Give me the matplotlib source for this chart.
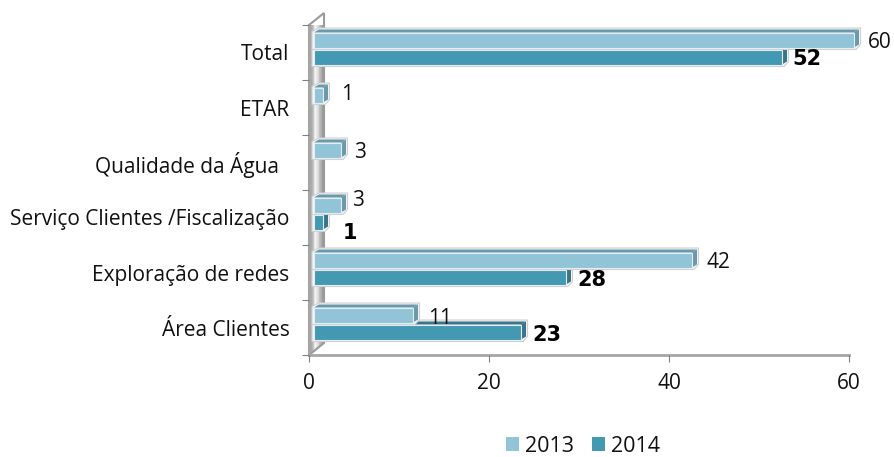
import matplotlib
matplotlib.use('Agg')
import matplotlib.pyplot as plt
import numpy as np
from matplotlib.patches import Polygon, Patch
from matplotlib.transforms import offset_copy

plt.rcParams['font.family'] = ['Open Sans', 'DejaVu Sans']

categories = ['Área Clientes', 'Exploração de redes', 'Serviço Clientes /Fiscalização',
              'Qualidade da Água  ', 'ETAR', 'Total']
values_2013 = [11, 42, 3, 3, 1, 60]
values_2014 = [23, 28, 1, None, None, 52]
xticks = [0, 20, 40, 60]

# label offsets in pixels from the bar end (dx, dy)
offs_2013 = [(27, -3), (26, -3), (17, 4), (19, -3), (24, 0), (26, -2)]
offs_2014 = [(26, -3), (26, -3), (27, -11), None, None, (25, -2)]

W, H = 895, 457
C13 = '#92c4d8'
C14 = '#4299b1'
S13 = '#6a99ab'
S14 = '#3a7488'
GREY = '#a6a6a6'
DX = 5      # bar start offset from the axis
DEPTH = 5   # 3d depth of a bar

fig = plt.figure(figsize=(W / 100, H / 100), dpi=100)
ax = fig.add_axes([309 / W, 1 - 355 / H, 540 / W, 330 / H])
ax.set_facecolor('none')
for s in ['top', 'right']:
    ax.spines[s].set_visible(False)
for s in ['left', 'bottom']:
    ax.spines[s].set_color(GREY)
    ax.spines[s].set_linewidth(2)
    ax.spines[s].set_zorder(1.5)


def px(x, y):
    return ((x - 309) / 540 * 60, 5.5 - (y - 25) / 55)


# side wall
wall = Polygon([px(309, 25), px(324, 13), px(324, 343), px(309, 355)], closed=True,
               facecolor='none', edgecolor='#9a9a9a', lw=1.5, zorder=1, clip_on=False)
ax.add_patch(wall)
grad = np.array([[0.62, 0.72, 0.95, 0.88, 0.72, 0.62]])
im = ax.imshow(grad, cmap='gray', vmin=0, vmax=1, aspect='auto', zorder=0.9,
               extent=(px(309, 0)[0], px(324, 0)[0], px(0, 355)[1], px(0, 13)[1]))
im.set_clip_path(wall)

ax.set_xlim(0, 60)
ax.set_ylim(-0.5, 5.5)
ax.set_yticks(np.arange(-0.5, 6, 1))
ax.set_yticklabels([])
ax.set_xticks(xticks)
ax.tick_params(axis='x', length=5, color='#808080', labelsize=15, pad=8, labelcolor='#111111')
ax.tick_params(axis='y', length=5, color='#808080')
ax.set_yticks(range(6), minor=True)
ax.set_yticklabels(categories, minor=True, fontsize=15, color='#111111')
ax.tick_params(axis='y', which='minor', length=0, pad=14)

unit_x = 60 / 540
unit_y = 1 / 55
bar_h = 15 * unit_y
centre = 4 * unit_y


def draw_bar(y, v, front, side, z):
    # bar in data units, moved off the wall
    x0 = DX * unit_x
    x1 = x0 + v
    d = DEPTH * unit_x
    dy = 3 * unit_y
    lo, hi = y - bar_h / 2, y + bar_h / 2
    halo = Polygon([(x0 - 2 * unit_x, lo - 2 * unit_y), (x1 + 2 * unit_x, lo - 2 * unit_y),
                    (x1 + d + 1.5 * unit_x, lo + dy), (x1 + d + 1.5 * unit_x, hi + dy + 1.5 * unit_y),
                    (x0 + d, hi + dy + 1.5 * unit_y), (x0 - 2 * unit_x, hi + 1 * unit_y)],
                   closed=True, facecolor='#f4f6f6', edgecolor='#cfcfcf', lw=0.8, zorder=z, clip_on=False)
    ax.add_patch(halo)
    ax.add_patch(Polygon([(x0, hi), (x0 + d, hi + dy), (x1 + d, hi + dy), (x1, hi)], closed=True,
                         facecolor=side, edgecolor='none', zorder=z + 0.1, clip_on=False))
    ax.add_patch(Polygon([(x1, lo), (x1 + d, lo + dy), (x1 + d, hi + dy), (x1, hi)], closed=True,
                         facecolor=side, edgecolor='none', zorder=z + 0.1, clip_on=False))
    ax.barh(y, v, left=x0, height=bar_h, color=front, edgecolor='#e4eef2', linewidth=0.8,
            zorder=z + 0.2, clip_on=False)


for i in range(6):
    band = i + centre
    if values_2014[i] is not None:
        draw_bar(band - 8.5 * unit_y, values_2014[i], C14, S14, 2)
    draw_bar(band + 8.5 * unit_y, values_2013[i], C13, S13, 3)

for i in range(6):
    band = i + centre
    ox, oy = offs_2013[i]
    ax.annotate(str(values_2013[i]), (values_2013[i], band + 8.5 * unit_y), xytext=(ox * 0.72 + 3.6, oy * 0.72),
                textcoords='offset points', ha='center', va='center', fontsize=15, color='#111111',
                annotation_clip=False, zorder=6)
    if values_2014[i] is not None:
        ox, oy = offs_2014[i]
        ax.annotate(str(values_2014[i]), (values_2014[i], band - 8.5 * unit_y), xytext=(ox * 0.72 + 3.6, oy * 0.72),
                    textcoords='offset points', ha='center', va='center', fontsize=15, fontweight='bold',
                    family='DejaVu Sans', color='black', annotation_clip=False, zorder=6)

handles = [Patch(facecolor=C13, label='2013'), Patch(facecolor=C14, label='2014')]
fig.legend(handles=handles, loc='center', bbox_to_anchor=(583 / W, 1 - 446 / H), ncol=2, frameon=False,
           fontsize=15.5, handlelength=0.6, handleheight=0.6, handletextpad=0.3, columnspacing=0.8,
           labelcolor='#111111', borderpad=0, borderaxespad=0)

fig.savefig('out.png', dpi=100)
